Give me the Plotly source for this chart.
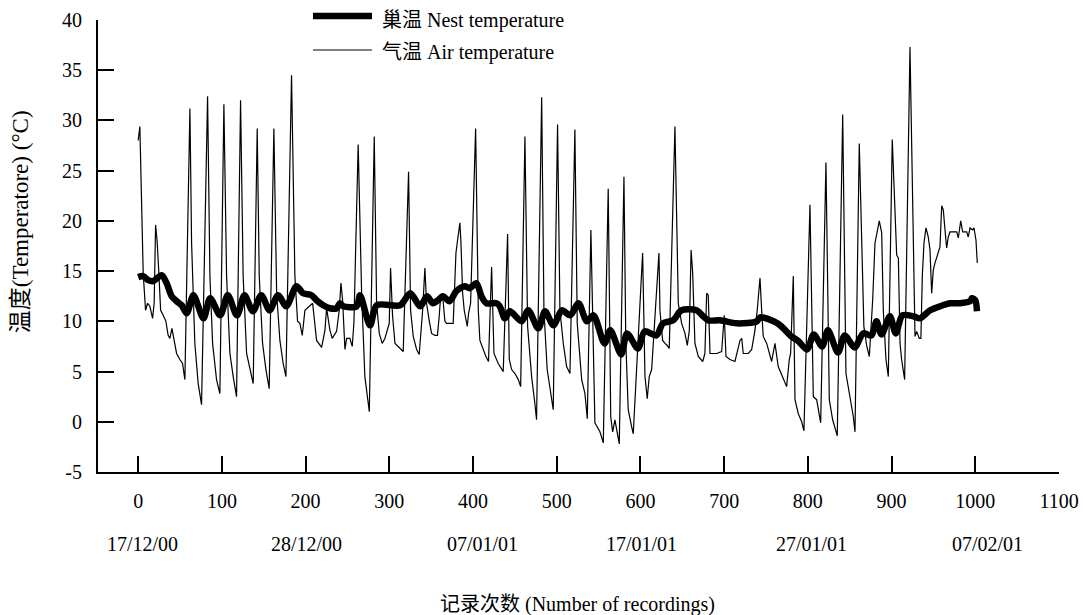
import plotly.graph_objects as go

# ---- data ----
air_x = [0, 2, 6, 8.8, 11.2, 14, 17.2, 19.1, 20.8, 22.7, 24.7, 26.8, 29.9, 33.1, 35.8, 37.9, 40.3,
         45.9, 49.8, 53.0, 55.8, 61.8, 63.8, 67.7, 71.7, 75.7, 82.9, 85.7, 88.9, 93.6, 97.6,
         102.4, 105.6, 109.6, 113.5, 117.5, 122.3, 125.4, 129.5, 133.5, 137.4, 142.2, 144.6,
         148.6, 152.6, 156.5, 162.1, 165.4, 169.3, 173.2, 176.5, 183.2, 187.2, 190.4, 193.2,
         196.0, 199.2, 208.4, 213.1, 219.1, 223.1, 225.1, 229.1, 231.8, 237.0, 240.2, 242.2,
         244.2, 247.0, 249.0, 252.9, 255.7, 257.7, 262.8,
         266.9, 270.8, 276.1, 282.0, 284.8, 288.0, 291.5, 294.7, 299.9, 301.5, 303.9, 306.8,
         310.6, 313.5, 316.6, 323.0, 325.4, 328.6, 332.6, 335.7, 339.8, 342.5, 344.5, 347.6,
         350.5, 354.5, 357.5, 359.6, 361.3, 364, 366.4, 368.4, 376.3, 377.6, 379.6, 381.1,
         384.3, 385.5, 387.6, 389.5, 393.1, 394.7, 397.1, 403.1, 406.3, 408.2, 412.2, 415.4,
         418.5, 422.2, 425, 430.1, 436.1, 441.3, 443.3, 446.1, 450.1, 454.1, 456.9, 462.0,
         465.2, 470.0, 473.9, 475.9, 482.0, 484.7, 488.6, 492.7, 495.8, 501.0, 503.8, 507.8,
         511.8, 515.8, 521.7,
         524.5, 526.9, 529.8, 533.7, 536.5, 540.8, 545.6, 551.6, 555.6, 561.5, 563.0, 564.5,
         566.8, 569.5, 574.7, 580.3, 582.5, 585.4, 589.5, 591.4, 602.6, 605.4, 608.1, 610.5,
         613.4, 615.3, 618.5, 622.1, 623.3, 626.5, 629.3, 632.0, 634.4, 641.2, 645.2, 649.2,
         653.2, 656, 658.4, 660.5, 662.4, 665.1, 669.1, 674.4, 677, 679.1, 681, 683.1, 691.1,
         697.0, 700.1, 702.2, 706.9, 712.9, 718.9, 721, 722.8, 728.8, 732.9, 736.8, 739.5,
         742.8, 744.8, 746.7, 750.8, 756.7, 760.7, 764.6, 770.6, 774.6, 777.8, 779.4, 782.6,
         784.6, 788.6, 792.6, 795.3, 802.5, 806.5, 810.5, 815.3, 821.6, 825.6, 829.6, 835.1,
         841.6, 845.5, 850.3, 854.3, 856.3, 861.4, 866.9, 870.2, 873.4, 877.4, 880.2, 885.3,
         888.2, 890.1, 893.3, 896.1, 900.8, 906.1, 908.1, 910.1, 912, 915.6, 922.0, 926.8,
         928, 930, 933.1, 935, 936.7, 938.7, 941.1, 943.8, 945.9, 947.9, 949.8, 951.8, 955.8,
         957.8, 959.9, 961.8, 963.8, 965.8, 967.7, 969.8, 977.8, 979.7, 982.6, 984.9, 989.7,
         991.6, 993.7, 996.9, 998.4, 1000.8, 1002.4]
air_y = [28.0, 29.4, 14.8, 11.1, 11.8, 11.5, 10.3, 11.8, 19.6, 17.9, 14.8, 11.1, 10.6, 10.0, 8.6, 8.3, 9.3,
         6.8, 6.2, 5.8, 4.2, 31.2, 17.8, 7.8, 3.8, 1.7, 32.4, 14.5, 7.8, 4.2, 2.8,
         31.6, 14.5, 6.8, 4.5, 2.5, 32.0, 14.5, 6.8, 5.2, 3.8, 29.2, 14.5,
         7.8, 5.2, 3.3, 29.2, 12.8, 8.1, 5.8, 4.5, 34.5, 14.5, 10.0, 9.8,
         8.6, 11.1, 11.8, 8.1, 7.4, 9.1, 11.3, 9.1, 8.3, 9.0, 11.1, 13.8,
         12.1, 7.2, 8.3, 8.3, 7.5, 9.8, 27.6,
         12.8, 4.5, 1.0, 28.4, 11.8, 8.8, 7.8, 8.3, 9.8, 15.3, 10.5, 7.8,
         7.5, 7.2, 7.0, 24.9, 11.1, 8.5, 7.2, 6.7, 11.1, 15.3, 11.8, 10.1,
         8.8, 8.6, 8.6, 10.5, 12.5, 12.3, 10.0, 9.8, 9.8, 12.5, 16.8, 17.8,
         19.8, 18.0, 12.8, 11.1, 9.5, 10.8, 11.8, 29.2, 11.1, 8.1, 7.2, 6.5,
         6.0, 15.4, 6.8, 5.8, 5.0, 18.7, 6.2, 5.2, 4.8, 4.2, 3.5, 28.4,
         9.5, 4.5, 1.8, 0.2, 32.3, 11.1, 5.2, 2.8, 1.2, 29.6, 11.1, 7.8,
         5.5, 4.8, 29.1,
         9.8, 6.8, 4.2, 2.8, 0.3, 19.1, -0.1, -1.0, -2.1, 23.2, 7.8, 0.5,
         -1.0, 0.2, -2.2, 24.4, 8.0, 1.2, -0.5, -1.2, 16.8, 4.5, 2.3, 4.5,
         5.2, 7.8, 11.1, 16.8, 11.1, 8.1, 7.8, 7.6, 7.3, 29.4, 11.8, 9.8,
         8.8, 7.6, 9.1, 17.1, 14.8, 7.8, 6.5, 6.0, 6.8, 12.8, 12.6, 6.8, 6.8,
         7.0, 10.6, 6.5, 6.2, 6.0, 8.1, 8.3, 6.8, 6.8, 7.2, 9.1, 11.1,
         14.3, 11.1, 8.5, 7.8, 6.0, 7.8, 5.5, 4.3, 3.5, 6.2, 6.8, 14.5,
         2.2, 0.8, 0.0, -0.9, 21.6, 2.5, 2.2, -0.1, 25.8, 2.2, 0.2, -1.4,
         30.6, 4.8, 2.5, 0.5, -1.0, 27.7, 9.5, 7.6, 6.5, 12.1, 17.8, 20.0,
         18.8, 11.1, 6.2, 4.5, 28.1, 16.6, 16.3, 7.8, 6.2, 4.2, 37.3, 11.1,
         8.5, 9.0, 8.3, 8.3, 14.5, 17.8, 19.3, 18.4, 17.1, 12.8, 15.1, 15.8, 16.8,
         17.4, 21.5, 21.1, 19.1, 17.3, 18.4, 18.9, 18.9, 18.3, 20.0, 18.9, 18.9,
         18.4, 19.3, 19.1, 19.3, 18.1, 15.8]

nest_x = [0, 6, 12, 18, 28, 34, 40, 46, 52, 58, 66, 78, 86, 98, 107, 118, 127, 137, 147, 157, 167,
          177, 189, 197, 207, 213, 221, 229, 237, 241, 245, 261, 265, 277, 285, 313, 325, 337,
          345, 352, 358, 364, 372, 380, 390, 396, 404, 410, 416, 428, 432, 438, 444, 458, 466,
          478, 486, 496, 506, 516, 526, 536, 544, 557, 564, 577, 584, 597, 605, 619, 627, 639,
          649, 667, 675, 681, 695, 715, 739, 743, 759, 767, 779, 789, 799, 807, 817, 824, 836,
          844, 856, 866, 876, 882, 888, 898, 905, 913, 926, 934, 946, 958, 970, 982, 994, 996,
          1000, 1002]
nest_y = [14.4, 14.5, 14.1, 14.0, 14.6, 13.8, 12.5, 12.0, 11.6, 10.8, 12.6, 10.3, 12.3, 10.6, 12.6,
          10.6, 12.6, 11.0, 12.6, 11.1, 12.6, 11.5, 13.5, 12.8, 12.6, 12.1, 11.6, 11.3, 11.3,
          11.8, 11.5, 11.5, 12.6, 9.6, 11.6, 11.6, 12.8, 11.5, 12.5, 11.8, 12.1, 12.5, 12.0,
          13.0, 13.5, 13.3, 13.8, 12.5, 11.8, 11.8, 11.5, 10.3, 11.0, 10.0, 11.1, 9.3, 11.0,
          9.6, 11.1, 10.6, 11.8, 10.0, 10.6, 7.8, 9.1, 6.7, 8.8, 7.3, 9.0, 8.6, 9.8, 10.1,
          11.1, 11.1, 10.5, 10.1, 10.1, 9.8, 10.0, 10.4, 10.0, 9.6, 8.6, 8.0, 7.2, 8.7, 7.5,
          9.1, 6.9, 8.6, 7.4, 8.8, 8.6, 10.0, 8.7, 10.5, 8.8, 10.6, 10.5, 10.3, 11.1, 11.5,
          11.8, 11.8, 12.0, 12.3, 12.1, 11.0]

x_ticks = [0, 100, 200, 300, 400, 500, 600, 700, 800, 900, 1000, 1100]
y_ticks = [-5, 0, 5, 10, 15, 20, 25, 30, 35, 40]
y_tick_text = ["-5", "0", "5", "10", "15", "20", "25", "30", "35", "40"]
date_labels = ["17/12/00", "28/12/00", "07/01/01", "17/01/01", "27/01/01", "07/02/01"]
date_pos = [5.7, 201.6, 411, 601, 804, 1014]
series_names = ["巢温 Nest temperature", "气温 Air temperature"]

FONT = "Liberation Serif, Times New Roman, Noto Sans CJK SC, serif"
NEST_W = 6.5
AIR_W = 1.2

fig = go.Figure()
fig.add_trace(go.Scatter(x=air_x, y=air_y, mode="lines", name=series_names[1],
                         line=dict(color="black", width=AIR_W)))
fig.add_trace(go.Scatter(x=nest_x, y=nest_y, mode="lines", name=series_names[0],
                         line=dict(color="black", width=NEST_W, shape="spline", smoothing=0.8)))

axis_common = dict(showline=True, linecolor="black", linewidth=2, ticks="inside",
                   ticklen=16, tickwidth=2, tickcolor="black", showgrid=False, zeroline=False,
                   tickfont=dict(family=FONT, size=20, color="black"), mirror=False,
                   automargin=False)

fig.update_xaxes(range=[-48, 1100], tickvals=x_ticks, ticklabelstandoff=10, **axis_common)
fig.update_yaxes(range=[-5, 40], tickvals=y_ticks, ticktext=y_tick_text,
                 ticklabelstandoff=10, **axis_common)

annotations = []
for lab, pos in zip(date_labels, date_pos):
    annotations.append(dict(x=pos, y=-0.159, xref="x", yref="paper", text=lab, showarrow=False,
                            font=dict(family=FONT, size=20, color="black"),
                            xanchor="center", yanchor="middle"))
annotations.append(dict(x=0.4985, y=-0.294, xref="paper", yref="paper",
                        text="记录次数 (Number of recordings)", showarrow=False,
                        font=dict(family=FONT, size=20, color="black"),
                        xanchor="center", yanchor="middle"))
annotations.append(dict(x=-0.081, y=0.553, xref="paper", yref="paper",
                        text="温度(Temperatore) (°C)", showarrow=False, textangle=-90,
                        font=dict(family=FONT, size=23, color="black"),
                        xanchor="center", yanchor="middle"))

# legend drawn by hand (sample line + label) so that it sits above the axes like the original
legend_rows = [(1.0088, 0.9978, NEST_W), (0.9336, 0.9292, AIR_W)]
shapes = []
for name, (ly, ty, w) in zip(series_names, legend_rows):
    shapes.append(dict(type="line", xref="paper", yref="paper", x0=0.2237, x1=0.2851,
                       y0=ly, y1=ly, line=dict(color="black", width=w)))
    annotations.append(dict(x=0.2934, y=ty, xref="paper", yref="paper", text=name,
                            showarrow=False, xanchor="left", yanchor="middle",
                            font=dict(family=FONT, size=20, color="black")))

fig.update_layout(
    width=1083, height=615,
    margin=dict(l=98, r=24, t=20, b=143, autoexpand=False),
    plot_bgcolor="white", paper_bgcolor="white",
    showlegend=False,
    annotations=annotations,
    shapes=shapes,
)

fig.write_html("out.html", config={"displayModeBar": False},
               post_script="document.body.style.margin='0';")
